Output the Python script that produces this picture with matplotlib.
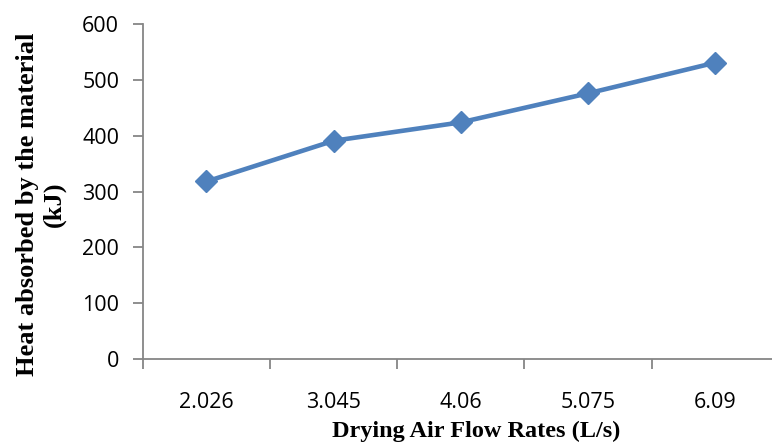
import matplotlib.pyplot as plt

flow_rates = ["2.026", "3.045", "4.06", "5.075", "6.09"]
heat_absorbed = [318, 391, 424, 476, 531]

fig = plt.figure(figsize=(7.72, 4.47), dpi=100)
ax = fig.add_axes([0.185, 0.197, 0.824, 0.749])

x = range(len(flow_rates))
ax.plot(x, heat_absorbed, color="#4F81BD", linewidth=3.3, marker="D",
        markersize=11, clip_on=False)

ax.set_xlim(-0.5, len(flow_rates) - 0.5)
ax.set_ylim(0, 600)
ax.set_yticks(range(0, 601, 100))
ax.set_xticks(list(x))
ax.set_xticklabels(flow_rates)
ax.set_xticks([i - 0.5 for i in range(len(flow_rates) + 1)], minor=True)

axis_grey = "#868686"
for side in ["top", "right"]:
    ax.spines[side].set_visible(False)
for side in ["left", "bottom"]:
    ax.spines[side].set_color(axis_grey)
    ax.spines[side].set_linewidth(1.3)

tick_font = "Open Sans"
ax.tick_params(axis="x", which="major", length=0, pad=24, labelsize=15.5)
ax.tick_params(axis="x", which="minor", length=7, width=1.3, color=axis_grey)
ax.tick_params(axis="y", length=7, width=1.3, color=axis_grey, pad=10, labelsize=15.5)
for lbl in ax.get_xticklabels() + ax.get_yticklabels():
    lbl.set_fontfamily(tick_font)

fig.text(0.6166, 0.034, "Drying Air Flow Rates (L/s)", ha="center", va="center",
         family="Liberation Serif", weight="bold", size=17.5)
fig.text(0.053, 0.544, "Heat absorbed by the material\n(kJ)", ha="center", va="center",
         rotation=90, multialignment="center", linespacing=1.2,
         family="Liberation Serif", weight="bold", size=19)

fig.savefig("out.png", dpi=100)
